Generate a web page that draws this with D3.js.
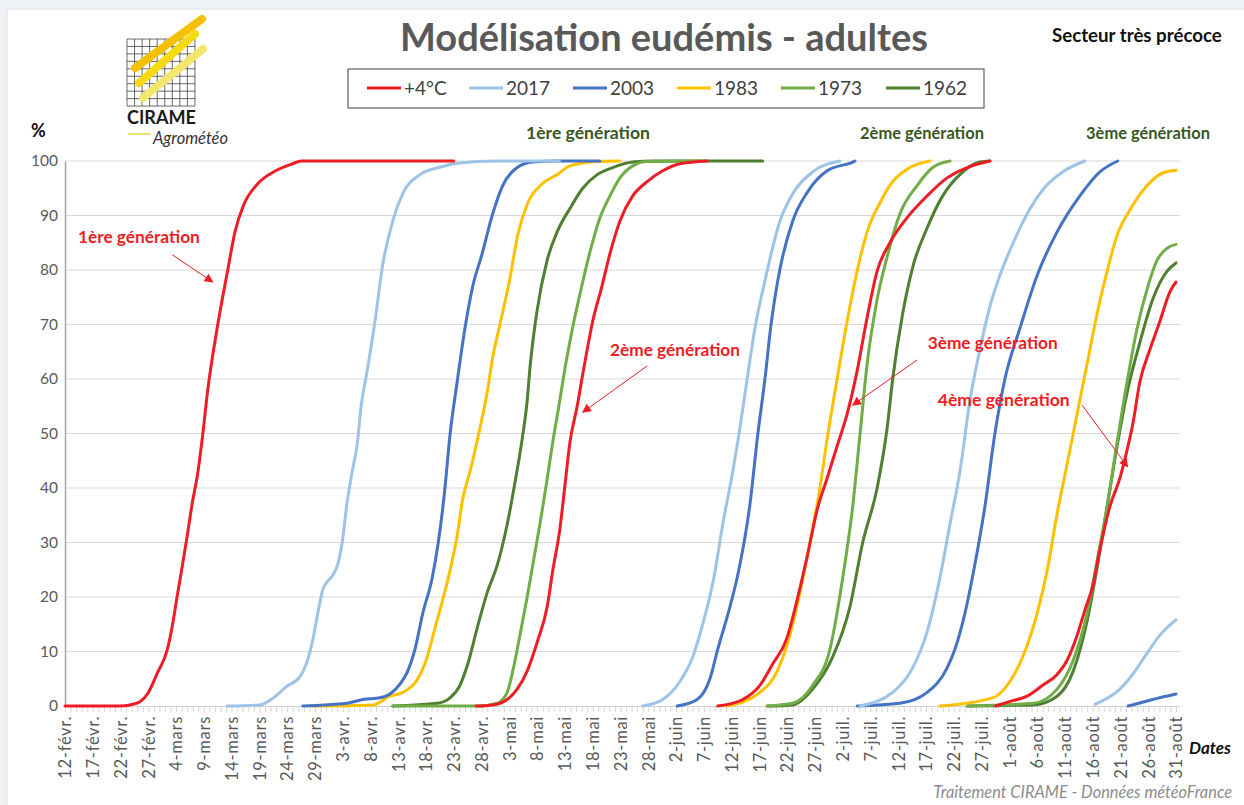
<!DOCTYPE html>
<html>
<head>
<meta charset="utf-8">
<script src="https://cdnjs.cloudflare.com/ajax/libs/d3/7.8.5/d3.min.js"></script>
<style>
  body { margin: 0; background: #eef2f5; }
  svg { display: block; }
  text { font-family: Lato, "Open Sans", sans-serif; }
</style>
</head>
<body>
<svg width="1244" height="805"></svg>
<script>
// ===== DATA (day = days since 12-févr., value = % adults) =====
var seriesNames = ["+4°C", "2017", "2003", "1983", "1973", "1962"];
var seriesColors = ["#ee1c25", "#9dc3e6", "#4472c4", "#ffc000", "#70ad47", "#4f7f30"];

var xTickLabels = ["12-févr.", "17-févr.", "22-févr.", "27-févr.", "4-mars", "9-mars", "14-mars", "19-mars",
  "24-mars", "29-mars", "3-avr.", "8-avr.", "13-avr.", "18-avr.", "23-avr.", "28-avr.", "3-mai", "8-mai",
  "13-mai", "18-mai", "23-mai", "28-mai", "2-juin", "7-juin", "12-juin", "17-juin", "22-juin", "27-juin",
  "2-juil.", "7-juil.", "12-juil.", "17-juil.", "22-juil.", "27-juil.", "1-août", "6-août", "11-août",
  "16-août", "21-août", "26-août", "31-août"];
var yTicks = [0, 10, 20, 30, 40, 50, 60, 70, 80, 90, 100];

// null = break between generations
var plus4 = [
  [0, 0], [9.9, 0], [11.7, 0.2], [13.5, 0.8], [14.9, 2.3], [16.6, 6], [18.4, 10.3], [19.3, 14.6], [20.2, 20.2],
  [21.1, 25.6], [22, 31.2], [22.9, 37.2], [23.8, 42.1], [24.7, 49], [25.7, 58], [27.5, 70], [29.3, 80], [30.6, 87],
  [32.1, 91.8], [34.5, 95.6], [38.1, 98.3], [41, 99.5], [42.5, 100], [70, 100],
  null,
  [74, 0], [77, 0.2], [79.6, 1.2], [81.4, 3.1], [83.2, 6.4], [85, 11.7], [86.8, 18.2], [87.8, 24.8], [89.1, 32.6],
  [90, 40.5], [90.9, 48.4], [92.2, 55], [93.4, 62], [95, 70.6], [96.7, 77.2], [98.1, 83], [99.9, 89], [102.2, 93.6],
  [104.8, 96.2], [107.6, 98.2], [110.7, 99.5], [115.6, 100],
  null,
  [117.5, 0], [122, 1.2], [125.1, 3.8], [127.4, 7.7], [129.9, 12.3], [131.8, 19.5], [133.6, 27.4], [135.4, 36],
  [137.2, 41.8], [139, 47.7], [140.8, 53.6], [142.6, 61.5], [144.4, 71.3], [146.2, 79.8], [148.5, 85], [151.6, 89.6],
  [155.2, 93.6], [158.8, 96.9], [162.4, 98.8], [166.5, 100],
  null,
  [167.5, 0], [170, 0.8], [173.2, 1.8], [176, 3.8], [178.6, 5.8], [180.4, 8.4], [182.2, 13], [183.6, 17.6], [185, 22],
  [186.3, 28.7], [188.1, 36.6], [189.9, 41.8], [191.2, 47], [192.2, 51.6], [193.5, 59.5], [195.3, 65.4],
  [197.1, 70.6], [198.9, 76], [200, 77.8]
];
var y2017 = [
  [29.2, 0], [35.1, 0.2], [37.4, 1.4], [39.9, 3.6], [42.3, 5.4], [43.7, 8.5], [44.6, 12.1], [45.5, 17], [46.4, 21.3],
  [47.3, 22.9], [48.2, 24], [49.1, 26], [49.9, 30], [50.8, 37.5], [51.7, 43], [52.6, 48], [53.3, 55], [54.4, 61.5],
  [55.8, 70.6], [57.2, 81], [59, 89], [60.8, 94], [63.9, 97.5], [67.3, 98.8], [70.6, 99.6], [77.8, 100], [89, 100],
  null,
  [104, 0], [107.6, 1.2], [110.7, 4.5], [113, 9], [114.8, 15], [116.8, 23.5], [118.4, 33.3], [120.2, 43], [121.5, 51],
  [122.8, 60], [124.2, 69.3], [126, 78], [128.7, 89], [131, 94], [134.6, 98], [139.5, 100],
  null,
  [143.1, 0], [149, 2.5], [152.6, 7], [155.2, 13.6], [157.5, 23.5], [159.3, 33.3], [161.1, 43], [162.9, 56],
  [164.7, 65.4], [166.5, 73.3], [168.3, 79], [170.7, 85], [173.2, 90.3], [176.4, 95.2], [179.6, 98], [183.6, 100],
  null,
  [185.4, 0.3], [189.9, 3.1], [192.2, 5.8], [194.8, 9.7], [197.1, 13], [200, 15.8]
];
var y2003 = [
  [42.8, 0], [50.8, 0.5], [53.6, 1.2], [56.7, 1.5], [58.5, 2.2], [60.3, 4], [61.7, 6.4], [63, 10.4], [64.4, 17],
  [66.1, 23.5], [67.2, 30], [68.4, 40], [69.3, 49.7], [70.6, 59.5], [72, 69.3], [73.4, 77], [75.1, 83], [76.9, 90],
  [78.8, 95.5], [81.4, 98.8], [84.2, 99.8], [88.6, 100], [96.3, 100],
  null,
  [110.2, 0], [113.8, 1.2], [116.1, 5], [117.5, 10.4], [119.7, 18.2], [121.1, 24], [123.3, 37], [124.7, 49.7],
  [126, 60], [127.1, 70], [128.3, 78], [131, 89], [133.6, 94.2], [137.2, 98.2], [141.8, 99.8], [142.2, 100],
  null,
  [142.6, 0], [150.3, 0.5], [155.2, 2.5], [158.8, 7], [160.2, 10.4], [162, 17], [163.8, 26], [165.6, 36.6],
  [167.4, 50], [169.2, 60], [171.9, 69.3], [175, 79], [178.6, 87], [182.7, 93.6], [186.3, 98], [189.5, 100],
  null,
  [191.4, 0], [195.8, 1.2], [200, 2.2]
];
var y1983 = [
  [44.6, 0], [55.4, 0.2], [58.5, 1.8], [60.8, 2.5], [63.4, 4.8], [65.2, 9], [66.6, 14.3], [68, 19.5], [69.3, 24.8],
  [70.6, 31.3], [71.6, 38], [72.9, 43], [74.7, 51], [76, 57.5], [77, 64], [78.3, 70], [80.1, 78.5], [81.5, 86.4],
  [83.3, 92.3], [86, 95.9], [88.6, 97.5], [90.9, 99.1], [95.8, 99.9], [99.9, 100],
  null,
  [119.2, 0], [125.1, 2.5], [128.2, 6.4], [130.5, 13], [132.3, 20.8], [134.1, 30], [135.9, 40], [137.3, 49.7],
  [139, 60], [140.8, 70.6], [142.6, 79.8], [144.4, 87], [146.7, 92.3], [149, 96.2], [152.1, 98.8], [155.7, 100],
  null,
  [157.5, 0], [167, 1.5], [170.1, 4.5], [172.4, 9], [175, 17], [176.8, 24.8], [178.6, 35.3], [180.4, 44.4],
  [182.2, 53.6], [184, 62.8], [185.8, 72], [187.6, 79.8], [189.4, 86.4], [191.7, 91], [194.8, 95.5], [197.6, 97.8],
  [200, 98.3]
];
var y1973 = [
  [59, 0], [74.7, 0], [77.8, 0.5], [79.6, 2.5], [80.6, 6.4], [81.9, 13], [83.2, 20], [84.4, 27], [85.6, 34],
  [86.7, 41], [87.8, 48.4], [88.9, 55], [90.1, 62.5], [91.5, 70], [92.9, 76.5], [94.6, 83.7], [96.3, 89.6],
  [98.1, 93.6], [99.9, 96.9], [102.2, 99.1], [104.8, 99.9], [114.3, 100],
  null,
  [126.4, 0], [131, 0.5], [134.6, 3.8], [137.7, 10.4], [140, 23.5], [141.8, 36.6], [143.1, 49.7], [144.4, 62.8],
  [146.2, 74.6], [148, 82.4], [150.3, 90.3], [153.4, 95.5], [156.2, 98.8], [159.3, 100],
  null,
  [162.4, 0], [174.3, 0.5], [178.6, 3.1], [181.5, 8.4], [184, 17], [185.8, 26.7], [187.6, 36.6], [189.4, 48.4],
  [191.2, 59.5], [193, 69.3], [194.8, 76.5], [196.6, 81.8], [198.4, 84], [200, 84.7]
];
var y1962 = [
  [59, 0], [67, 0.5], [69.3, 1.5], [71.1, 3.8], [72.5, 7.7], [74.2, 14.3], [76, 20.8], [77.8, 25.8], [79.6, 33.3],
  [81, 41], [82.3, 49], [83.2, 56], [83.7, 62], [84.9, 72], [86.8, 81.8], [88.6, 87], [90.9, 91.3], [93.2, 95],
  [95.8, 97.5], [98.6, 98.8], [102.2, 99.8], [106, 100], [125.6, 100],
  null,
  [126.4, 0], [131, 0.2], [134.6, 3.1], [138.2, 9], [141.3, 18.2], [143.6, 30], [146.2, 40], [148, 51], [149, 60],
  [150.8, 72], [152.6, 80.5], [155.2, 87.7], [158, 93.6], [161.1, 97.5], [164.7, 99.8], [166.5, 100],
  null,
  [162.4, 0], [174.3, 0.2], [178.6, 1.8], [181.5, 6.4], [184, 15.6], [185.8, 25.4], [187.6, 36.6], [189.4, 47.7],
  [191.2, 57.5], [193.5, 66.7], [195.8, 74.6], [198.4, 79.8], [200, 81.3]
];
var seriesData = [plus4, y2017, y2003, y1983, y1973, y1962];

// ===== HELPERS =====
// squeeze/stretch a text to a given width by changing its font size
function fitWidth(sel, w) {
  var l = sel.node().getComputedTextLength();
  var fs = parseFloat(sel.attr("font-size"));
  sel.attr("font-size", (fs * w / l).toFixed(2));
}

// ===== MAIN =====
var svg = d3.select("svg");

svg.append("rect").attr("x", 7).attr("y", 9).attr("width", 1240).attr("height", 800)
  .attr("fill", "#fff").attr("stroke", "#dde2e7");

var x = d3.scaleLinear().domain([0, 200]).range([65, 1176]);
var y = d3.scaleLinear().domain([0, 100]).range([706, 161]);

// gridlines
svg.append("g")
  .selectAll("line")
  .data(yTicks.filter(function (d) { return d > 0; }))
  .enter().append("line")
  .attr("x1", 65).attr("x2", 1180)
  .attr("y1", function (d) { return y(d); })
  .attr("y2", function (d) { return y(d); })
  .attr("stroke", "#d9d9d9").attr("stroke-width", 1);

// y axis
var yAxis = svg.append("g")
  .attr("transform", "translate(65,0)")
  .call(d3.axisLeft(y).tickValues(yTicks).tickSize(0).tickPadding(7));
yAxis.select(".domain").attr("stroke", "#a6a6a6").attr("stroke-width", 1.5);
yAxis.selectAll("text").attr("font-size", 15.5).attr("fill", "#595959")
  .attr("font-family", "Lato, sans-serif");

// x axis : one small tick per day
var xMinor = svg.append("g")
  .attr("transform", "translate(0,706)")
  .call(d3.axisBottom(x).tickValues(d3.range(0, 201)).tickSize(6).tickFormat(""));
xMinor.select(".domain").attr("stroke", "#d0d0d0").attr("d", "M65,0.5H1180");
xMinor.selectAll(".tick line").attr("stroke", "#d6d6d6");

// x axis labels every 5 days
var xAxis = svg.append("g")
  .attr("transform", "translate(0,706)")
  .call(d3.axisBottom(x).tickValues(d3.range(0, 201, 5)).tickSize(0)
    .tickFormat(function (d) { return xTickLabels[d / 5]; }));
xAxis.select(".domain").remove();
xAxis.selectAll("text")
  .attr("font-size", 16.5).attr("fill", "#595959")
  .attr("font-family", "Lato, sans-serif")
  .attr("letter-spacing", 0.7)
  .attr("text-anchor", "end")
  .attr("transform", "rotate(-90)")
  .attr("x", -10).attr("y", 0).attr("dy", "0.35em");

// series lines
var line = d3.line()
  .defined(function (d) { return d !== null; })
  .x(function (d) { return x(d[0]); })
  .y(function (d) { return y(d[1]); })
  .curve(d3.curveMonotoneX);

var order = [5, 4, 3, 2, 1, 0];
svg.append("g")
  .selectAll("path")
  .data(order)
  .enter().append("path")
  .attr("d", function (i) { return line(seriesData[i]); })
  .attr("fill", "none")
  .attr("stroke", function (i) { return seriesColors[i]; })
  .attr("stroke-width", 3)
  .attr("stroke-linejoin", "round")
  .attr("stroke-linecap", "round");

// arrow head
svg.append("defs").append("marker")
  .attr("id", "arr").attr("viewBox", "0 0 10 10")
  .attr("refX", 9).attr("refY", 5)
  .attr("markerWidth", 11).attr("markerHeight", 9)
  .attr("markerUnits", "userSpaceOnUse")
  .attr("orient", "auto")
  .append("path").attr("d", "M0,0L10,5L0,10z").attr("fill", "#ee1c25");

// red generation annotations (positions in data units)
var notes = [
  { t: "1ère génération", d: 13.3, v: 86, w: 122, a: [19.3, 82.8, 26.6, 77.8] },
  { t: "2ème génération", d: 109.8, v: 65.3, w: 130, a: [104.8, 62.4, 93.2, 53.9] },
  { t: "3ème génération", d: 167, v: 66.6, w: 130, a: [153.4, 63.5, 141.8, 55.2] },
  { t: "4ème génération", d: 169, v: 56.1, w: 132, a: [183.1, 55.2, 191.3, 43.9] }
];
notes.forEach(function (n) {
  var t = svg.append("text")
    .attr("x", x(n.d)).attr("y", y(n.v)).attr("dy", "0.35em")
    .attr("text-anchor", "middle").attr("font-size", 16).attr("font-weight", "bold")
    .attr("fill", "#ee1c25").text(n.t);
  fitWidth(t, n.w);
  svg.append("line")
    .attr("x1", x(n.a[0])).attr("y1", y(n.a[1]))
    .attr("x2", x(n.a[2])).attr("y2", y(n.a[3]))
    .attr("stroke", "#ee1c25").attr("stroke-width", 1)
    .attr("marker-end", "url(#arr)");
});

// generation headers (dark green)
[["1ère génération", 588], ["2ème génération", 922], ["3ème génération", 1148]].forEach(function (g) {
  var t = svg.append("text").attr("x", g[1]).attr("y", 139)
    .attr("text-anchor", "middle").attr("font-size", 16).attr("font-weight", "bold")
    .attr("fill", "#375623").text(g[0]);
  fitWidth(t, 124);
});

// title
var title = svg.append("text").attr("x", 664).attr("y", 51)
  .attr("text-anchor", "middle").attr("font-size", 34).attr("font-weight", "bold")
  .attr("fill", "#595959").text("Modélisation eudémis - adultes");
fitWidth(title, 528);

var sect = svg.append("text").attr("x", 1052).attr("y", 42)
  .attr("font-size", 17).attr("font-weight", "bold").attr("fill", "#111")
  .text("Secteur très précoce");
fitWidth(sect, 170);

// legend
svg.append("rect").attr("x", 348).attr("y", 69).attr("width", 636).attr("height", 39)
  .attr("fill", "#fff").attr("stroke", "#404040").attr("stroke-width", 1);
var legX = [367, 469, 573, 677, 781, 886];
var legend = svg.append("g").selectAll("g")
  .data(seriesNames)
  .enter().append("g")
  .attr("transform", function (d, i) { return "translate(" + legX[i] + ",88)"; });
legend.append("line")
  .attr("x1", 0).attr("x2", 34).attr("y1", 0).attr("y2", 0)
  .attr("stroke", function (d, i) { return seriesColors[i]; })
  .attr("stroke-width", 3);
legend.append("text")
  .attr("x", 37).attr("dy", "0.35em")
  .attr("font-size", 19).attr("fill", "#404040")
  .text(function (d) { return d; });

// axis titles, credits
svg.append("text").attr("x", 31).attr("y", 137).attr("font-size", 18).attr("font-weight", "bold")
  .attr("fill", "#111").text("%");
svg.append("text").attr("x", 1189).attr("y", 754).attr("font-size", 17).attr("font-weight", "bold")
  .attr("font-style", "italic").attr("fill", "#111").text("Dates");
var cred = svg.append("text").attr("x", 1232).attr("y", 798).attr("text-anchor", "end")
  .attr("font-size", 14).attr("font-style", "italic").attr("fill", "#8c8c8c")
  .text("Traitement CIRAME - Données météoFrance");
fitWidth(cred, 299);

// ===== CIRAME logo =====
var logo = svg.append("g");
var gx = d3.range(127, 196, 7.55);
logo.selectAll("line.v").data(gx).enter().append("line")
  .attr("x1", function (d) { return d; }).attr("x2", function (d) { return d; })
  .attr("y1", 39).attr("y2", 106).attr("stroke", "#444").attr("stroke-width", 0.8);
var gy = d3.range(39, 107, 7.45);
logo.selectAll("line.h").data(gy).enter().append("line")
  .attr("y1", function (d) { return d; }).attr("y2", function (d) { return d; })
  .attr("x1", 127).attr("x2", 195).attr("stroke", "#444").attr("stroke-width", 0.8);
[["#f5c000", 135, 68, 202, 19], ["#f7da10", 139, 83, 195, 34], ["#f3e66c", 143, 98, 203, 49]].forEach(function (s) {
  logo.append("line").attr("x1", s[1]).attr("y1", s[2]).attr("x2", s[3]).attr("y2", s[4])
    .attr("stroke", s[0]).attr("stroke-width", 8).attr("stroke-linecap", "round");
});
var cir = logo.append("text").attr("x", 127).attr("y", 124).attr("font-size", 17)
  .attr("font-weight", "bold").attr("font-family", "Liberation Sans, Arial, sans-serif")
  .attr("fill", "#1a1a1a").text("CIRAME");
fitWidth(cir, 69);
logo.append("line").attr("x1", 128).attr("x2", 151).attr("y1", 134).attr("y2", 134)
  .attr("stroke", "#e6d64a").attr("stroke-width", 1.5);
var agro = logo.append("text").attr("x", 153).attr("y", 144).attr("font-size", 13)
  .attr("font-style", "italic").attr("font-family", "DejaVu Serif, serif")
  .attr("fill", "#333").text("Agrométéo");
fitWidth(agro, 75);
</script>
</body>
</html>
